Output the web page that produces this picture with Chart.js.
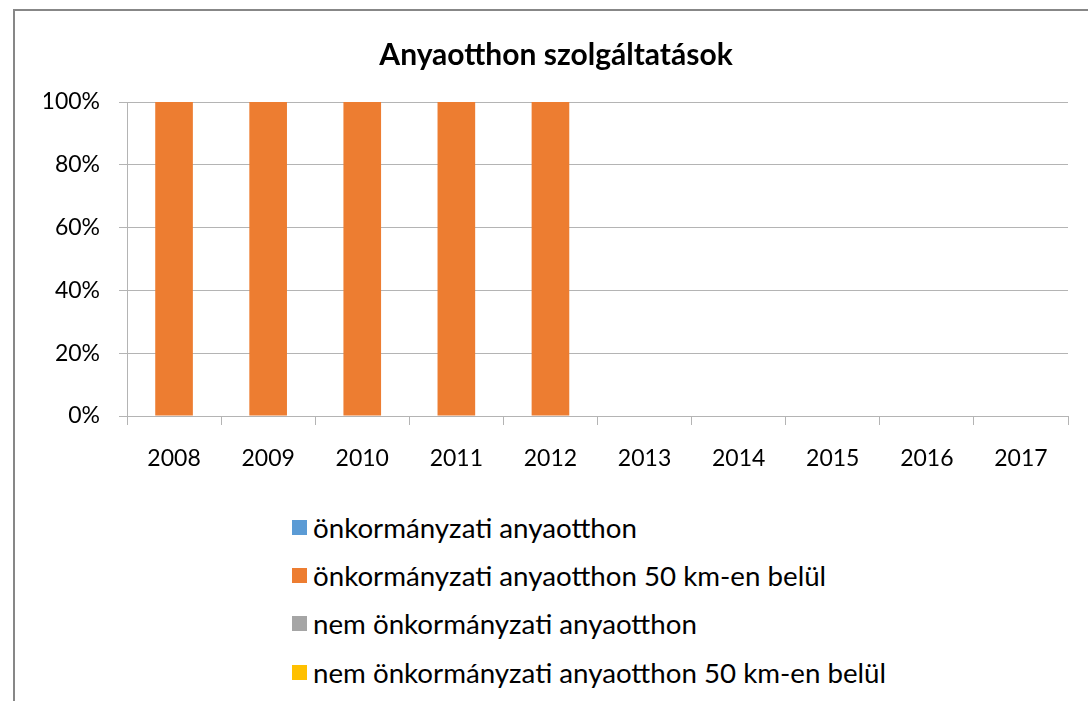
<!DOCTYPE html>
<html>
<head>
<meta charset="utf-8">
<script src="https://cdn.jsdelivr.net/npm/chart.js@4/dist/chart.umd.min.js"></script>
<style>
  body { margin: 0; background: #fff; overflow: hidden; width: 1088px; height: 701px; position: relative; }
  #frame { position: absolute; left: 13px; top: 9px; width: 1200px; height: 800px; border: 2px solid #878787; box-sizing: border-box; }
  #wrap { position: absolute; left: 0; top: 0; width: 1088px; height: 490px; }
  #legend { position: absolute; left: 292px; top: 503px; font-family: Lato, sans-serif; font-size: 27.7px; color: #000; }
  .item { display: flex; align-items: center; height: 48.3px; white-space: nowrap; }
  .box { width: 15px; height: 15px; margin-right: 6px; flex: none; }
</style>
</head>
<body>
<div id="frame"></div>
<div id="wrap"><canvas id="chart" width="1088" height="490"></canvas></div>
<div id="legend"></div>
<script>
const years = ["2008", "2009", "2010", "2011", "2012", "2013", "2014", "2015", "2016", "2017"];
const seriesNames = [
  "önkormányzati anyaotthon",
  "önkormányzati anyaotthon 50 km-en belül",
  "nem önkormányzati anyaotthon",
  "nem önkormányzati anyaotthon 50 km-en belül",
];
const seriesColors = ["#5B9BD5", "#ED7D31", "#A5A5A5", "#FFC000"];

// share of each service type, percent
const onkormanyzati = [0, 0, 0, 0, 0, 0, 0, 0, 0, 0];
const onkormanyzati50 = [100, 100, 100, 100, 100, 0, 0, 0, 0, 0];
const nemOnkormanyzati = [0, 0, 0, 0, 0, 0, 0, 0, 0, 0];
const nemOnkormanyzati50 = [0, 0, 0, 0, 0, 0, 0, 0, 0, 0];
const yTicks = [0, 20, 40, 60, 80, 100];

const seriesValues = [onkormanyzati, onkormanyzati50, nemOnkormanyzati, nemOnkormanyzati50];
const gridColor = "#b4b4b4";
const tickFont = { family: "Lato, sans-serif", size: 23 };

const chart = new Chart(document.querySelector("#chart"), {
  type: "bar",
  data: {
    labels: years,
    datasets: seriesNames.map((name, i) => ({
      label: name,
      data: seriesValues[i],
      backgroundColor: seriesColors[i],
      categoryPercentage: 0.4,
      barPercentage: 1,
    })),
  },
  options: {
    responsive: false,
    animation: false,
    layout: { padding: { left: 44, right: 20, top: 0, bottom: 4 } },
    plugins: {
      legend: { display: false },
      tooltip: { enabled: false },
      title: {
        display: true,
        text: "Anyaotthon szolgáltatások",
        color: "#000",
        font: { family: "Lato, sans-serif", size: 30, weight: "bold" },
        padding: { top: 37, bottom: 29 },
      },
    },
    scales: {
      x: {
        stacked: true,
        offset: true,
        grid: { drawOnChartArea: false, tickLength: 9, color: gridColor, offset: true },
        border: { color: gridColor },
        ticks: { color: "#000", font: tickFont, padding: 20, maxRotation: 0 },
        afterFit: (scale) => { scale.height = 70; },
      },
      y: {
        stacked: true,
        min: 0,
        max: 100,
        afterBuildTicks: (scale) => { scale.ticks = yTicks.map((v) => ({ value: v })); },
        grid: { tickLength: 8, color: gridColor },
        border: { color: gridColor },
        ticks: { color: "#000", font: tickFont, padding: 19, callback: (v) => v + "%" },
        afterFit: (scale) => { scale.width = 83; },
      },
    },
  },
});

const legend = document.querySelector("#legend");
chart.data.datasets.forEach((ds) => {
  const item = document.createElement("div");
  item.className = "item";
  item.innerHTML = `<span class="box" style="background:${ds.backgroundColor}"></span><span>${ds.label}</span>`;
  legend.appendChild(item);
});
</script>
</body>
</html>
